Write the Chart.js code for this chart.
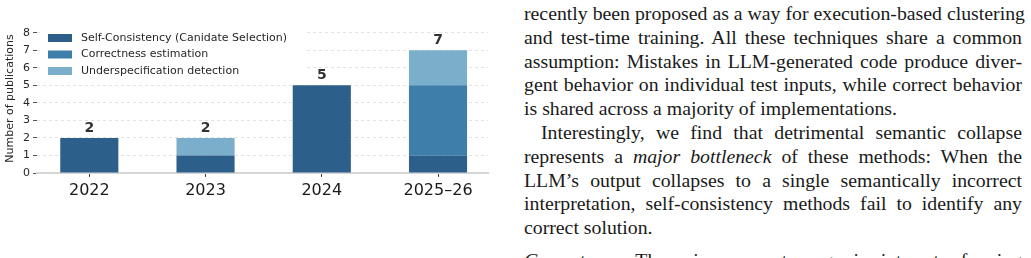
<!DOCTYPE html>
<html>
<head>
<meta charset="utf-8">
<script src="https://cdn.jsdelivr.net/npm/chart.js@4.4.1/dist/chart.umd.min.js"></script>
<style>
  html, body { margin: 0; padding: 0; background: #fff; }
  body { width: 1031px; height: 258px; position: relative; overflow: hidden; }
  #chartBox { position: absolute; left: 0; top: 0; width: 500px; height: 258px; }
  #paper {
    position: absolute; left: 524px; top: 2px; width: 498px;
    font-family: "Liberation Serif", "Times New Roman", serif;
    font-size: 19.8px; line-height: 23.8px; color: #1a1a1a;
  }
  #paper .j { text-align: justify; text-align-last: justify; white-space: nowrap; }
  #paper .l { text-align: left; white-space: nowrap; }
  #paper .ind { text-indent: 17px; }
  #paper .gap { margin-top: 9px; }
</style>
</head>
<body>
<div id="chartBox"><canvas id="pubChart" width="500" height="258"></canvas></div>

<div id="paper">
  <div class="j">recently been proposed as a way for execution-based clustering</div>
  <div class="j">and test-time training. All these techniques share a common</div>
  <div class="j">assumption: Mistakes in LLM-generated code produce diver-</div>
  <div class="j">gent behavior on individual test inputs, while correct behavior</div>
  <div class="l">is shared across a majority of implementations.</div>
  <div class="j ind">Interestingly, we find that detrimental semantic collapse</div>
  <div class="j">represents a <i>major bottleneck</i> of these methods: When the</div>
  <div class="j">LLM’s output collapses to a single semantically incorrect</div>
  <div class="j">interpretation, self-consistency methods fail to identify any</div>
  <div class="l">correct solution.</div>
  <div class="j gap"><i>Correctness.</i> There is a recent surge in interest of using</div>
</div>

<script>
// publications per year, split by method family
const years = ["2022", "2023", "2024", "2025–26"];
const selfConsistency = [2, 1, 5, 1];
const correctnessEst = [0, 0, 0, 4];
const underspecDet = [0, 1, 0, 2];
const yTicks = [0, 1, 2, 3, 4, 5, 6, 7, 8];

const seriesNames = [
    "Self-Consistency (Canidate Selection)",
    "Correctness estimation",
    "Underspecification detection"
];
const colors = ["#2c5f8a", "#3d7eab", "#7aaecb"];

const toPoints = arr => arr.map((v, i) => ({ x: i, y: v }));

// total count above each stack
const totalsPlugin = {
    id: "totals",
    afterDatasetsDraw(chart) {
        const { ctx, scales } = chart;
        ctx.save();
        ctx.font = "bold 14px 'DejaVu Sans'";
        ctx.fillStyle = "#333333";
        ctx.textAlign = "center";
        ctx.textBaseline = "bottom";
        years.forEach((y, i) => {
            const total = selfConsistency[i] + correctnessEst[i] + underspecDet[i];
            ctx.fillText(String(total), scales.x.getPixelForValue(i), scales.y.getPixelForValue(total) - 3);
        });
        ctx.restore();
    }
};

// legend inside the axes, top left, on a white patch
const innerLegend = {
    id: "innerLegend",
    afterDraw(chart) {
        const { ctx, chartArea } = chart;
        const x0 = chartArea.left + 11;
        const y0 = chartArea.top + 14;
        ctx.save();
        ctx.fillStyle = "#ffffff";
        ctx.fillRect(chartArea.left + 3, chartArea.top + 4, 265, 56);
        ctx.font = "11px 'DejaVu Sans'";
        ctx.textBaseline = "middle";
        ctx.textAlign = "left";
        chart.data.datasets.forEach((ds, k) => {
            const cy = y0 + k * 16.5;
            ctx.fillStyle = ds.backgroundColor;
            ctx.fillRect(x0, cy - 4, 24, 8);
            ctx.fillStyle = "#262626";
            ctx.fillText(ds.label, x0 + 33, cy);
        });
        ctx.restore();
    }
};

new Chart(document.getElementById("pubChart"), {
    type: "bar",
    data: {
        datasets: [
            { label: seriesNames[0], data: toPoints(selfConsistency), backgroundColor: colors[0] },
            { label: seriesNames[1], data: toPoints(correctnessEst), backgroundColor: colors[1] },
            { label: seriesNames[2], data: toPoints(underspecDet), backgroundColor: colors[2] }
        ]
    },
    options: {
        responsive: false,
        animation: false,
        devicePixelRatio: 1,
        layout: { padding: { left: 0, top: 24, right: 12, bottom: 0 } },
        datasets: { bar: { categoryPercentage: 1, barPercentage: 0.5, borderWidth: 0 } },
        plugins: { legend: { display: false }, tooltip: { enabled: false } },
        scales: {
            x: {
                type: "linear",
                stacked: true,
                offset: false,
                min: -0.45,
                max: 3.43,
                afterBuildTicks: s => { s.ticks = years.map((_, i) => ({ value: i })); },
                afterFit: s => { s.height = 85; },
                grid: { display: true, offset: false, drawOnChartArea: false, drawTicks: true,
                        tickLength: 4, tickColor: "#444444", tickWidth: 1 },
                border: { display: true, color: "#d6d6d6", width: 2 },
                ticks: {
                    autoSkip: false, maxRotation: 0, padding: 4,
                    font: { family: "DejaVu Sans", size: 16 }, color: "#1a1a1a",
                    callback: v => years[v]
                }
            },
            y: {
                stacked: true,
                min: 0,
                max: 8.5,
                afterBuildTicks: s => { s.ticks = yTicks.map(v => ({ value: v })); },
                afterFit: s => { s.width = 37; },
                grid: { color: "#e2e2e2", lineWidth: 1, drawTicks: true, tickLength: 4,
                        tickColor: "#555555", tickWidth: 1 },
                border: { display: false, dash: [3, 3] },
                ticks: { padding: 3, font: { family: "DejaVu Sans", size: 11 }, color: "#262626" },
                title: {
                    display: true, text: "Number of publications",
                    font: { family: "DejaVu Sans", size: 11 }, color: "#262626",
                    padding: { top: 4, bottom: 0 }
                }
            }
        }
    },
    plugins: [totalsPlugin, innerLegend]
});
</script>
</body>
</html>
